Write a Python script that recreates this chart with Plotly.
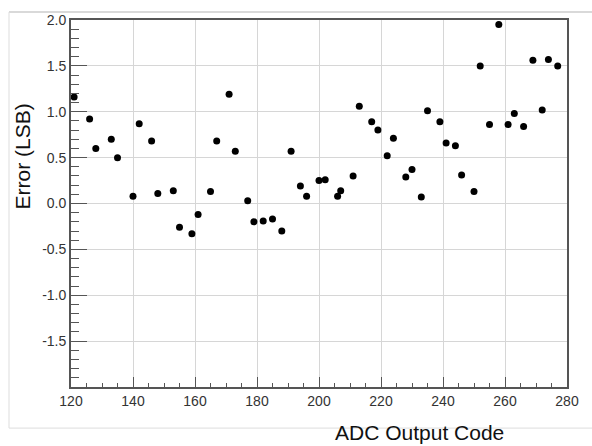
import plotly.graph_objects as go

adc_code = [121, 126, 128, 133, 135, 140, 142, 146, 148, 153, 155, 159, 161, 165,
            167, 171, 173, 177, 179, 182, 185, 188, 191, 194, 196, 200, 202, 206,
            207, 211, 213, 217, 219, 222, 224, 228, 230, 233, 235, 239, 241, 244,
            246, 250, 252, 255, 258, 261, 263, 266, 269, 272, 274, 277]
error_lsb = [1.16, 0.92, 0.60, 0.70, 0.50, 0.08, 0.87, 0.68, 0.11, 0.14, -0.26, -0.33,
             -0.12, 0.13, 0.68, 1.19, 0.57, 0.03, -0.20, -0.19, -0.17, -0.30, 0.57,
             0.19, 0.08, 0.25, 0.26, 0.08, 0.14, 0.30, 1.06, 0.89, 0.80, 0.52, 0.71,
             0.29, 0.37, 0.07, 1.01, 0.89, 0.66, 0.63, 0.31, 0.13, 1.50, 0.86, 1.95,
             0.86, 0.98, 0.84, 1.56, 1.02, 1.57, 1.50]

x_ticks = [120, 140, 160, 180, 200, 220, 240, 260, 280]
y_ticks = [-1.5, -1.0, -0.5, 0.0, 0.5, 1.0, 1.5, 2.0]
y_ticktext = ["-1.5", "-1.0", "-0.5", "0.0", "0.5", "1.0", "1.5", "2.0"]

fig = go.Figure()
fig.add_trace(go.Scatter(
    x=adc_code, y=error_lsb, mode="markers",
    marker=dict(color="black", size=7),
    showlegend=False,
))

font_family = "Liberation Sans, Arial, Helvetica, sans-serif"
axis_col = "#555555"
grid_col = "#d6d6d6"

fig.update_layout(
    width=592, height=446,
    margin=dict(l=71, r=25, t=16, b=59),
    paper_bgcolor="white", plot_bgcolor="white",
    font=dict(family=font_family, color="#333333", size=14),
    xaxis=dict(
        range=[120, 280], tickmode="array", tickvals=x_ticks,
        ticks="inside", ticklen=10, tickwidth=1.2, tickcolor=axis_col,
        showline=True, linecolor=axis_col, linewidth=1.8, mirror=True,
        showgrid=True, gridcolor=grid_col, gridwidth=1.2, zeroline=False,
        tickfont=dict(size=14, color="#333333"),
        minor=dict(tickmode="linear", tick0=120, dtick=5, ticks="inside",
                   ticklen=4, tickcolor=axis_col, tickwidth=1.2, showgrid=False),
    ),
    yaxis=dict(
        range=[-2, 2], tickmode="array", tickvals=y_ticks, ticktext=y_ticktext,
        ticks="inside", ticklen=16, tickwidth=1.2, tickcolor=axis_col,
        showline=True, linecolor=axis_col, linewidth=1.8, mirror=True,
        showgrid=True, gridcolor=grid_col, gridwidth=1.2, zeroline=False,
        tickfont=dict(size=14, color="#333333"),
        minor=dict(tickmode="linear", tick0=-2, dtick=0.1, ticks="inside",
                   ticklen=8, tickcolor=axis_col, tickwidth=1.2, showgrid=False),
    ),
    annotations=[
        dict(text="ADC Output Code", xref="paper", yref="paper",
             x=0.7036, y=-0.123, xanchor="center", yanchor="middle",
             showarrow=False, font=dict(size=21, color="#111111")),
        dict(text="Error (LSB)", xref="paper", yref="paper",
             x=-0.0968, y=0.628, xanchor="center", yanchor="middle",
             textangle=-90, showarrow=False, font=dict(size=21, color="#111111")),
    ],
    shapes=[
        dict(type="line", xref="paper", yref="paper", x0=-0.125, x1=1.06,
             y0=1.0216, y1=1.0216, line=dict(color="#cccccc", width=1.5)),
        dict(type="line", xref="paper", yref="paper", x0=-0.125, x1=-0.125,
             y0=1.0216, y1=-0.112, line=dict(color="#dddddd", width=1)),
        dict(type="line", xref="paper", yref="paper", x0=-0.125, x1=1.06,
             y0=-0.112, y1=-0.112, line=dict(color="#dddddd", width=1)),
    ],
)

fig.write_html("out.html")
